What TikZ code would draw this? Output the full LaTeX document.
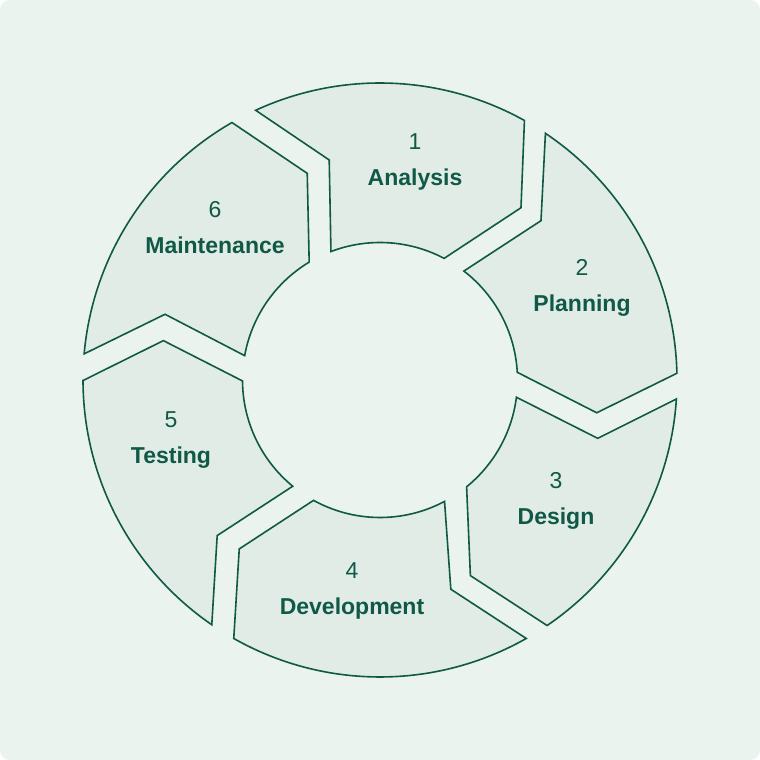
\documentclass[tikz,border=0pt]{standalone}
\usepackage{fontspec}
\setmainfont{Liberation Sans}
\usetikzlibrary{positioning}
\definecolor{bgmint}{HTML}{EAF3EE}
\definecolor{segfill}{HTML}{E1ECE6}
\definecolor{ink}{HTML}{0F5946}

\begin{document}
\begin{tikzpicture}[x=1pt,y=1pt,
		segment/.style={draw=ink, line width=1.6pt, fill=segfill},
		num/.style={text=ink, inner sep=0pt, anchor=base, font=\fontsize{23}{28}\selectfont},
		stage/.style={text=ink, inner sep=0pt, font=\bfseries\fontsize{23}{28}\selectfont},
		node distance=36pt, on grid]
		\fill[white] (0,0) rectangle (760,760);
		\fill[bgmint, rounded corners=10pt] (0,0) rectangle (760,760);
		\begin{scope}[shift={(380,380)}]
			\foreach \outback/\notch/\notchr/\inback/\infront/\tip/\tipr/\outfront in {
				114.75/103.0/225.8/110.9/62.2/50.7/222.6/60.9,
				56.15/44.7/226.5/52.4/3.2/-8.6/219.2/1.3,
				-3.67/-15.0/225.4/-7.2/-50.96/-65.2/215.5/-55.76,
				-60.5/-71.3/220.9/-62.0/-118.9/-129.8/219.9/-119.5,
				235.5/223.7/225.2/230.6/180.4/169.7/220.2/180.1,
				174.95/163.0/224.8/169.8/121.0/109.4/219.1/119.9}
			\draw[segment] (\outback:297) -- (\notch:\notchr) -- (\inback:137.5)
				arc[start angle=\inback, end angle=\infront, radius=137.5]
				-- (\tip:\tipr) -- (\outfront:297)
				arc[start angle=\outfront, end angle=\outback, radius=297] -- cycle;
		\end{scope}
		\node[num] (n1) at (415,610) {1};
		\node[num] (n2) at (582,484) {2};
		\node[num] (n3) at (556,271) {3};
		\node[num] (n4) at (352,181) {4};
		\node[num] (n5) at (171,332) {5};
		\node[num] (n6) at (215,542) {6};
		\node[stage] (s1) [below=of n1.base, anchor=base] {Analysis};
		\node[stage] (s2) [below=of n2.base, anchor=base] {Planning};
		\node[stage] (s3) [below=of n3.base, anchor=base] {Design};
		\node[stage] (s4) [below=of n4.base, anchor=base] {Development};
		\node[stage] (s5) [below=of n5.base, anchor=base] {Testing};
		\node[stage] (s6) [below=of n6.base, anchor=base] {Maintenance};
	\end{tikzpicture}
\end{document}
